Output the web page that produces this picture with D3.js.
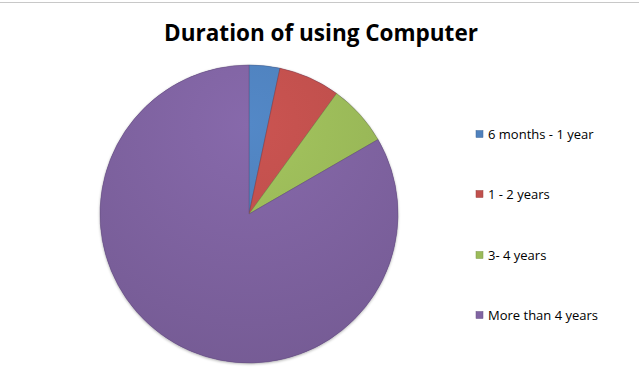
<!DOCTYPE html>
<html>
<head>
    <title>Duration of using Computer</title>
    <script src="https://cdn.jsdelivr.net/npm/d3@7"></script>
    <style>
        body { margin: 0; background: #fff; }
    </style>
</head>
<body>
    <svg width="639" height="374" id="mainsvg"></svg>
    <script>
        const categories = ['6 months - 1 year', '1 - 2 years', '3- 4 years', 'More than 4 years'];
        const values = [1, 2, 2, 25];
        const colors = ['#4f81bd', '#c0504d', '#9bbb59', '#8064a2'];

        const svg = d3.select('svg');
        const width = +svg.attr('width');
        const cx = 249, cy = 214, R = 149;

        // frame line at top
        svg.append('line').attr('x1', 0).attr('x2', width).attr('y1', 2.5).attr('y2', 2.5)
            .attr('stroke', '#c8c8c8').attr('stroke-width', 1);

        svg.append('text').attr('x', 321).attr('y', 41).attr('text-anchor', 'middle')
            .style('font-family', 'Open Sans, sans-serif').style('font-weight', 'bold')
            .style('font-size', '22.5px').attr('fill', '#000')
            .text('Duration of using Computer');

        const defs = svg.append('defs');
        colors.forEach((c, i) => {
            const g = defs.append('radialGradient').attr('id', 'grad' + i)
                .attr('gradientUnits', 'userSpaceOnUse')
                .attr('cx', 0).attr('cy', -R * 0.6).attr('r', R * 1.7);
            g.append('stop').attr('offset', '0%').attr('stop-color', d3.color(c).brighter(0.15));
            g.append('stop').attr('offset', '100%').attr('stop-color', d3.color(c).darker(0.25));
        });
        const shadow = defs.append('filter').attr('id', 'shadow').attr('x', '-10%').attr('y', '-10%')
            .attr('width', '120%').attr('height', '120%');
        shadow.append('feGaussianBlur').attr('in', 'SourceAlpha').attr('stdDeviation', 1.5);
        shadow.append('feOffset').attr('dx', 0).attr('dy', 1).attr('result', 'b');
        shadow.append('feComponentTransfer').append('feFuncA').attr('type', 'linear').attr('slope', 0.35);
        const m = shadow.append('feMerge');
        m.append('feMergeNode');
        m.append('feMergeNode').attr('in', 'SourceGraphic');

        const pie = d3.pie().sort(null).value(d => d);
        const arc = d3.arc().innerRadius(0).outerRadius(R);

        const g = svg.append('g').attr('transform', `translate(${cx},${cy})`);
        g.append('circle').attr('r', R).attr('fill', '#7a5f9c').attr('filter', 'url(#shadow)');
        g.selectAll('.slice').data(pie(values)).join('path').attr('class', 'slice')
            .attr('d', arc)
            .attr('fill', (d, i) => `url(#grad${i})`)
            .attr('stroke', (d, i) => d3.color(colors[i]).darker(0.8))
            .attr('stroke-width', 0.8)
            .attr('stroke-opacity', 0.6);

        const legendY = [134, 194, 255, 315];
        const legend = svg.selectAll('.leg').data(categories).join('g').attr('class', 'leg')
            .attr('transform', (d, i) => `translate(476,${legendY[i]})`);
        legend.append('rect').attr('x', 0).attr('y', -3.5).attr('width', 7).attr('height', 7)
            .attr('fill', (d, i) => colors[i]).attr('stroke', (d, i) => d3.color(colors[i]).darker(0.6))
            .attr('stroke-width', 0.5);
        legend.append('text').attr('x', 12).attr('y', 0).attr('dy', '0.35em')
            .style('font-family', 'Open Sans, sans-serif').style('font-size', '13px').attr('fill', '#000')
            .text(d => d);
    </script>
</body>
</html>
